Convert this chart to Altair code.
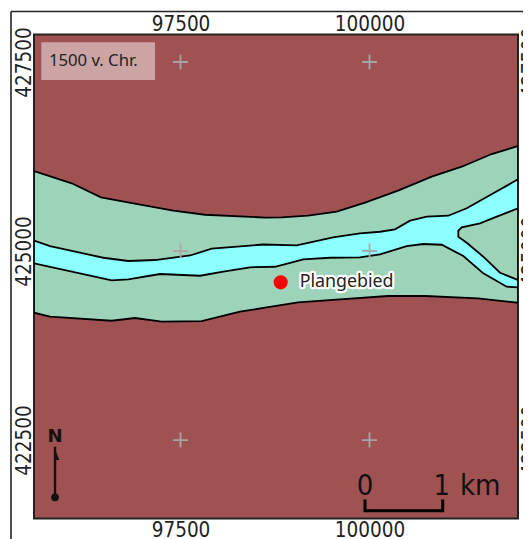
import altair as alt
import pandas as pd

X_DOMAIN = [95562, 101964]
Y_DOMAIN = [421462, 427864]
X_TICKS = [97500, 100000]
Y_TICKS = [422500, 425000, 427500]

BAND_TOP_X = [95562, 96061, 96448, 96876, 97405, 97824, 98618, 98839, 99187, 99566, 99941, 100377, 100823, 101220, 101617, 101964]
BAND_TOP_Y = [426058, 425896, 425710, 425631, 425533, 425480, 425443, 425446, 425467, 425520, 425639, 425798, 425983, 426115, 426283, 426389]
BAND_BOT_X = [95562, 95774, 96590, 96898, 97251, 97780, 98287, 98618, 99054, 100245, 100734, 101435, 101964]
BAND_BOT_Y = [424184, 424131, 424078, 424114, 424065, 424074, 424197, 424250, 424322, 424405, 424405, 424374, 424316]

RIVER_TOP_X = [95562, 95774, 96479, 96809, 97163, 97626, 97913, 98595, 99037, 99517, 99874, 100139, 100337, 100536, 100757, 101042, 101286, 101638, 101964]
RIVER_TOP_Y = [425139, 425066, 424911, 424868, 424881, 424941, 425033, 425086, 425076, 425181, 425234, 425255, 425287, 425401, 425454, 425467, 425565, 425763, 425949]
RIVER_BOT_X = [95562, 96590, 96809, 97229, 97758, 98066, 98419, 98750, 99124, 99477, 99874, 100139, 100492, 100712, 100955, 101241, 101505, 101815, 101964]
RIVER_BOT_Y = [424837, 424613, 424626, 424696, 424673, 424726, 424785, 424792, 424890, 424911, 424917, 424956, 425066, 425093, 425083, 424934, 424705, 424528, 424520]

WEDGE_X = [101964, 101683, 101462, 101220, 101175, 101175, 101294, 101505, 101726, 101964]
WEDGE_Y = [425565, 425454, 425367, 425314, 425269, 425189, 425102, 424925, 424713, 424617]

SITE_X, SITE_Y, SITE_NAME = 98825, 424586, "Plangebied"
PERIOD = "1500 v. Chr."
BOX = dict(x=95659, x2=97163, y=427761, y2=427262)
PERIOD_POS = dict(x=95760, y=427510)

NORTH_X, NORTH_Y0, NORTH_Y1, NORTH_N_Y = 95840, 421742, 422411, 422480
HEAD_X = [95828, 95897, 95853]
HEAD_Y = [422411, 422235, 422235]

BAR_X = [99940, 99940, 100968, 100968]
BAR_Y = [421693, 421565, 421565, 421693]
BAR_LABELS = ["0", "1", "km"]
BAR_LABEL_X = [99940, 100955, 101197]
BAR_LABEL_Y = 421772

BROWN, GREEN, CYAN = "#a05252", "#9dd4b9", "#8cffff"
FONT = "Noto Sans"
AXFONT = "DejaVu Sans Condensed, Noto Sans"
INK = "#222222"

xs = alt.Scale(domain=X_DOMAIN, nice=False, zero=False)
ys = alt.Scale(domain=Y_DOMAIN, nice=False, zero=False)
X = lambda f="x", **k: alt.X(f"{f}:Q", scale=xs, axis=k.get("axis", None))
Y = lambda f="y", **k: alt.Y(f"{f}:Q", scale=ys, axis=k.get("axis", None))


def polygon(px, py, fill, stroke=True):
    df = pd.DataFrame({"x": px, "y": py, "i": range(len(px))})
    kw = dict(stroke="black", strokeWidth=1.8) if stroke else dict(strokeWidth=0)
    return alt.Chart(df).mark_line(
        fill=fill, interpolate="linear-closed", clip=True, **kw
    ).encode(x=X(), y=Y(), order=alt.Order("i:Q"))


band = polygon(BAND_TOP_X + BAND_BOT_X[::-1], BAND_TOP_Y + BAND_BOT_Y[::-1], GREEN)
river = polygon(RIVER_TOP_X + RIVER_BOT_X[::-1], RIVER_TOP_Y + RIVER_BOT_Y[::-1], CYAN)
wedge = polygon(WEDGE_X, WEDGE_Y, GREEN)

grid = pd.DataFrame([{"x": a, "y": b} for a in X_TICKS for b in Y_TICKS])
CROSS = "M-1,0L1,0M0,-1L0,1"


def axis(orient, vertical):
    return alt.Axis(
        orient=orient, values=Y_TICKS if vertical else X_TICKS, title=None,
        domain=False, ticks=False, grid=False, labelFont=AXFONT, labelFontSize=20.5,
        labelColor=INK, format="d", labelPadding=0 if orient in ("left", "top") else 2,
        labelOverlap=False, labelFlush=False, labelBound=False,
        labelAngle=270 if vertical else 0,
        labelAlign="center", labelBaseline="bottom" if orient in ("left", "top") else "top",
    )


crosses = alt.Chart(grid).mark_point(
    shape=CROSS, size=225, stroke="#a9a9a9", strokeWidth=1.8, fill=None, opacity=0.95
).encode(x=X(axis=axis("bottom", False)), y=Y(axis=axis("left", True)))
crosses2 = alt.Chart(grid).mark_point(
    shape=CROSS, size=225, opacity=0
).encode(x=X(axis=axis("top", False)), y=Y(axis=axis("right", True)))

site = pd.DataFrame({"x": [SITE_X], "y": [SITE_Y], "t": [SITE_NAME]})
dot = alt.Chart(site).mark_circle(size=200, color="#ff0000", opacity=1).encode(x=X(), y=Y())
halo = alt.Chart(site).mark_text(
    align="left", dx=19, font=FONT, fontSize=17.8, stroke="white", strokeWidth=4.5,
    strokeJoin="round", fill="white"
).encode(x=X(), y=Y(), text="t:N")
label = alt.Chart(site).mark_text(
    align="left", dx=19, font=FONT, fontSize=17.8, color=INK
).encode(x=X(), y=Y(), text="t:N")

box = alt.Chart(pd.DataFrame([BOX])).mark_rect(color="#ffffff", opacity=0.48).encode(
    x=X(), x2="x2:Q", y=Y(), y2="y2:Q"
)
period = alt.Chart(pd.DataFrame([{**PERIOD_POS, "t": PERIOD}])).mark_text(
    align="left", font=FONT, fontSize=16.7, color=INK
).encode(x=X(), y=Y(), text="t:N")

n_line = alt.Chart(pd.DataFrame({"x": [NORTH_X], "y": [NORTH_Y0], "y2": [NORTH_Y1]})).mark_rule(
    color="#111111", strokeWidth=2.4
).encode(x=X(), y=Y(), y2="y2:Q")
n_dot = alt.Chart(pd.DataFrame({"x": [NORTH_X], "y": [NORTH_Y0]})).mark_circle(
    size=60, color="#111111", opacity=1
).encode(x=X(), y=Y())
n_head = polygon(HEAD_X, HEAD_Y, "#111111", stroke=False)
n_text = alt.Chart(pd.DataFrame({"x": [NORTH_X], "y": [NORTH_N_Y], "t": ["N"]})).mark_text(
    font="DejaVu Sans", fontWeight="bold", fontSize=18, color="#111111", baseline="alphabetic"
).encode(x=X(), y=Y(), text="t:N")

bar_df = pd.DataFrame({"x": BAR_X, "y": BAR_Y, "i": range(4)})
bar = alt.Chart(bar_df).mark_line(color="black", strokeWidth=3, strokeCap="square").encode(
    x=X(), y=Y(), order=alt.Order("i:Q")
)
bar_txt_df = pd.DataFrame({"x": BAR_LABEL_X, "y": [BAR_LABEL_Y] * 3, "t": BAR_LABELS})
bar_c = alt.Chart(bar_txt_df[bar_txt_df.t != "km"]).mark_text(
    font=AXFONT, fontSize=29, color="#111111", align="center", baseline="alphabetic"
).encode(x=X(), y=Y(), text="t:N")
bar_km = alt.Chart(bar_txt_df[bar_txt_df.t == "km"]).mark_text(
    font=AXFONT, fontSize=29, color="#111111", align="left", baseline="alphabetic"
).encode(x=X(), y=Y(), text="t:N")

frame_l = alt.Chart(pd.DataFrame({"a": [0]})).mark_rule(color="#222222", strokeWidth=1.6).encode(
    x=alt.value(-23), y=alt.value(-23), y2=alt.value(510)
)
frame_t = alt.Chart(pd.DataFrame({"a": [0]})).mark_rule(color="#222222", strokeWidth=1.6).encode(
    y=alt.value(-23), x=alt.value(-23), x2=alt.value(500)
)

chart = alt.layer(
    band, river, wedge, crosses, crosses2, box, period, n_line, n_head, n_dot, n_text,
    bar, bar_c, bar_km, dot, halo, label, frame_l, frame_t,
).resolve_axis(x="independent", y="independent").properties(
    width=484, height=484,
    padding={"left": 26, "top": 26.5, "right": 5, "bottom": 20.5},
    autosize=alt.AutoSizeParams(type="none"),
    background="white",
).configure_view(stroke="#222222", strokeWidth=2, fill=BROWN)

chart.save("out.html", embed_options={"renderer": "svg", "actions": False})
